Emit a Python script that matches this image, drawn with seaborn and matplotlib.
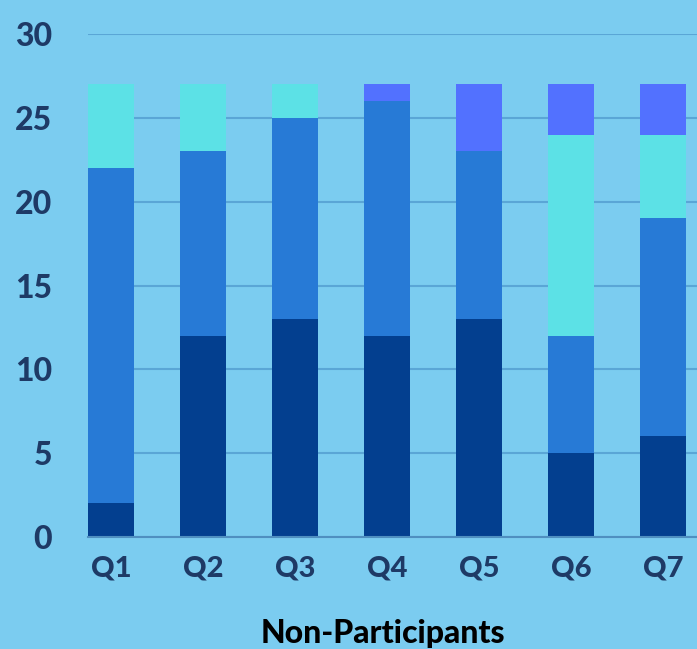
import matplotlib
matplotlib.use("Agg")
import matplotlib.pyplot as plt
import seaborn as sns
import numpy as np
import pandas as pd

categories = ["Q1", "Q2", "Q3", "Q4", "Q5", "Q6", "Q7"]
series_1 = [2, 12, 13, 12, 13, 5, 6]
series_2 = [20, 11, 12, 14, 10, 7, 13]
series_3 = [5, 4, 2, 0, 0, 12, 5]
series_4 = [0, 0, 0, 1, 4, 3, 3]
y_ticks = [0, 5, 10, 15, 20, 25, 30]
x_label = "Non-Participants"

colors = ["#033F8F", "#277AD6", "#5CE1E6", "#5271FF"]
bg = "#7BCCF0"

sns.set_theme(style="white")
plt.rcParams['font.family'] = ['Lato', 'DejaVu Sans']

fig = plt.figure(figsize=(6.97, 6.49), dpi=100, facecolor=bg)
ax = fig.add_axes([88/697, 112/649, 1 - 88/697, (537-34)/649])
ax.set_facecolor(bg)

s = np.array([series_1, series_2, series_3, series_4], dtype=float)
cum = np.cumsum(s, axis=0)

for i in range(3, -1, -1):
    df = pd.DataFrame({"cat": categories, "val": cum[i]})
    sns.barplot(data=df, x="cat", y="val", color=colors[i], width=0.5,
                saturation=1, ax=ax, linewidth=0, zorder=2)

ax.set_ylim(0, 30)
ax.set_xlim(-0.25, 6.37)
ax.set_yticks(y_ticks)
ax.set_yticklabels([str(t) for t in y_ticks])
ax.yaxis.grid(True, color="#5AA6D6", linewidth=1.5)
ax.set_axisbelow(True)
for sp in ["top", "right", "left"]:
    ax.spines[sp].set_visible(False)
ax.spines["bottom"].set_color("#4F8FC0")
ax.spines["bottom"].set_linewidth(1.5)
ax.tick_params(axis="both", length=0, colors="#1E3A66")
ax.tick_params(axis="y", pad=26, labelsize=23)
ax.tick_params(axis="x", pad=13, labelsize=21)
for lbl in ax.get_xticklabels() + ax.get_yticklabels():
    lbl.set_fontweight("black")
ax.set_ylabel("")
ax.set_xlabel(x_label, fontsize=23, fontweight="black", color="black")
ax.xaxis.set_label_coords(0.484, -0.163)

fig.savefig("out.png", dpi=100, facecolor=bg)
